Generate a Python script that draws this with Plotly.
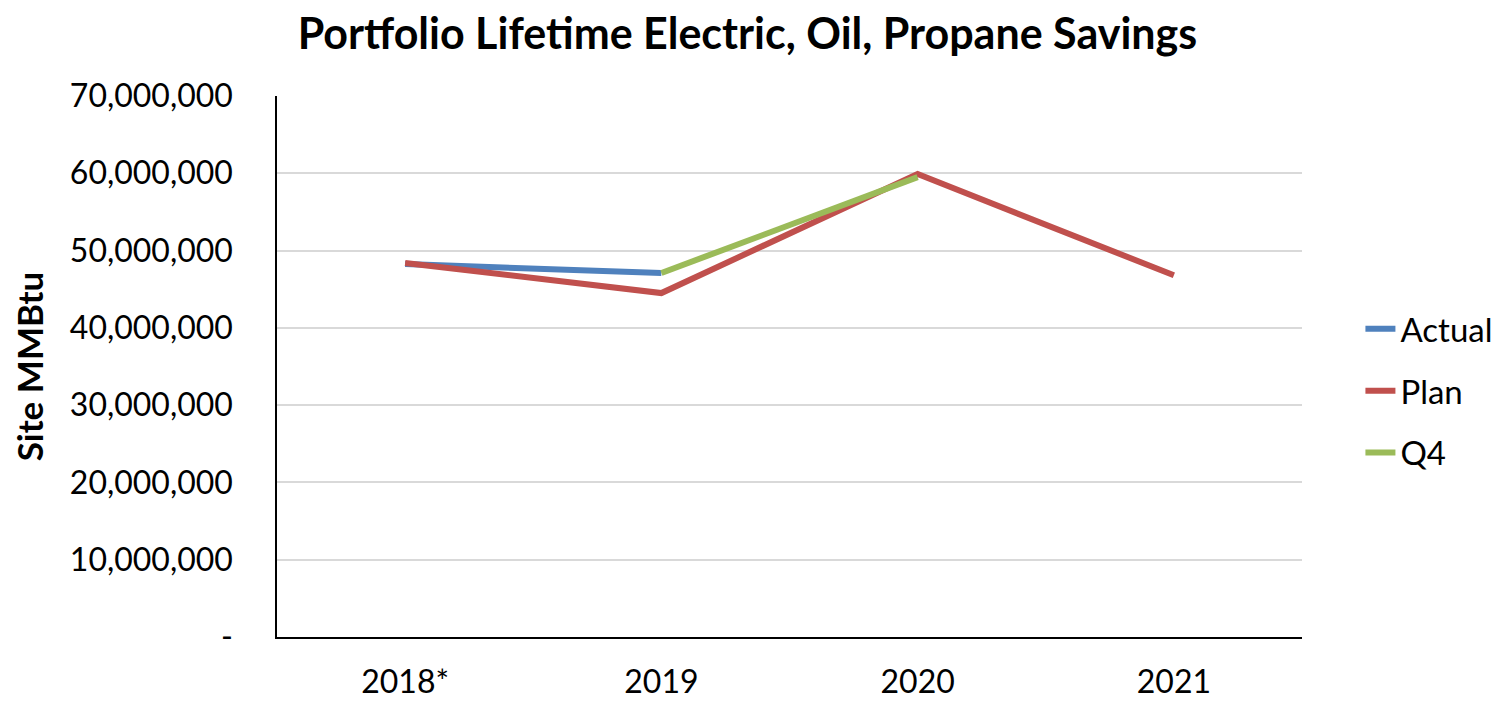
import plotly.graph_objects as go

categories = ["2018*", "2019", "2020", "2021"]
actual = [48250000, 47100000, None, None]
plan = [48400000, 44500000, 59900000, 46800000]
q4 = [None, 47100000, 59500000, None]

y_tickvals = [0, 10000000, 20000000, 30000000, 40000000, 50000000, 60000000, 70000000]
y_ticktext = ["-", "10,000,000", "20,000,000", "30,000,000", "40,000,000",
              "50,000,000", "60,000,000", "70,000,000"]

FONT = "Lato, Calibri, Carlito, sans-serif"

fig = go.Figure()
fig.add_trace(go.Scatter(x=categories, y=actual, name="Actual", mode="lines",
                         line=dict(color="#4f81bd", width=6), legendgroup="a"))
fig.add_trace(go.Scatter(x=categories, y=plan, name="Plan", mode="lines",
                         line=dict(color="#c0504d", width=6), legendgroup="p"))
fig.add_trace(go.Scatter(x=categories, y=q4, name="Q4", mode="lines",
                         line=dict(color="#9bbb59", width=6), legendgroup="q"))

fig.update_layout(
    width=1495, height=694,
    margin=dict(l=269, r=201, t=88, b=65, autoexpand=False),
    paper_bgcolor="white", plot_bgcolor="white",
    font=dict(family=FONT, color="black"),
    title=dict(text="<b>Portfolio Lifetime Electric, Oil, Propane Savings</b>",
               x=0.4946, xanchor="center", y=0.9625, yanchor="middle",
               font=dict(size=43, family=FONT, color="black")),
    legend=dict(x=1.057, xanchor="left", y=0.455, yanchor="middle",
                font=dict(size=33, family=FONT), tracegroupgap=16,
                bgcolor="rgba(0,0,0,0)"),
    showlegend=True,
)
fig.update_xaxes(type="category", range=[-0.5, 3.5], showline=True, linecolor="black",
                 linewidth=1.5, showgrid=False, ticks="", automargin=False,
                 tickfont=dict(size=32, family=FONT), ticklabelstandoff=16)
fig.update_yaxes(range=[0, 70000000], tickvals=y_tickvals, ticktext=y_ticktext,
                 showline=True, linecolor="black", linewidth=1.5, automargin=False,
                 showgrid=True, gridcolor="#d9d9d9", gridwidth=1.5, zeroline=False,
                 tickfont=dict(size=32, family=FONT), ticklabelstandoff=36,
                 title=dict(text="<b>Site MMBtu</b>", font=dict(size=35, family=FONT),
                            standoff=18))

fig.write_html("out.html")
